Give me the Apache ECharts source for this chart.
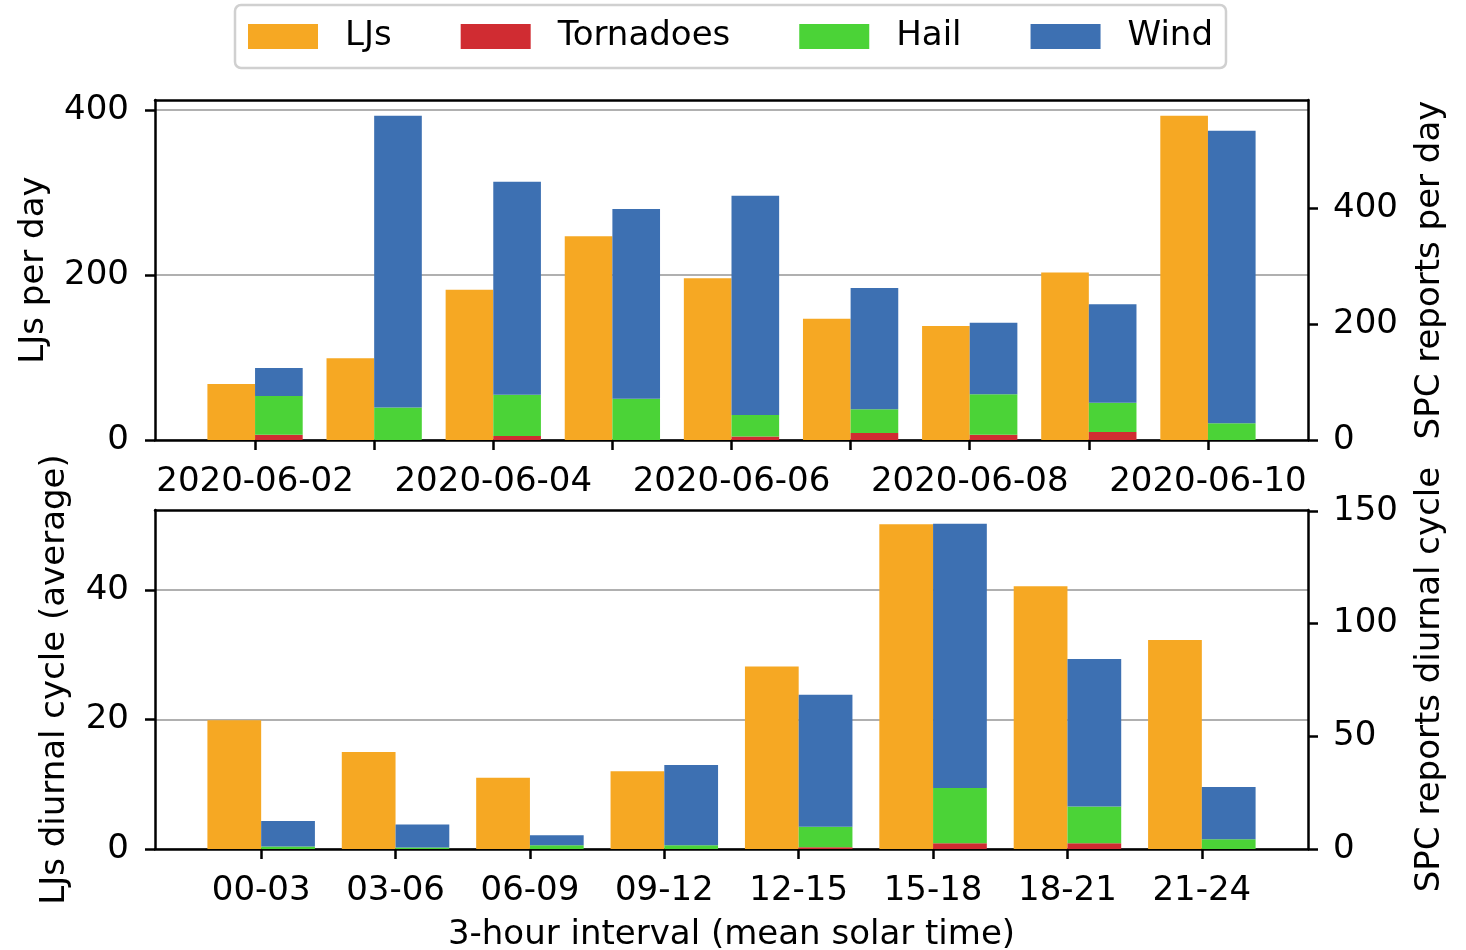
<!DOCTYPE html>
<html>
<head>
<meta charset="utf-8">
<script src="https://cdn.jsdelivr.net/npm/echarts@6/dist/echarts.min.js"></script>
<style>
  html, body { margin: 0; padding: 0; background: #ffffff; }
  #chart { width: 1466px; height: 950px; }
</style>
</head>
<body>
<div id="chart"></div>
<script>
// Daily counts (top panel)
const days = ['2020-06-02', '2020-06-03', '2020-06-04', '2020-06-05', '2020-06-06',
              '2020-06-07', '2020-06-08', '2020-06-09', '2020-06-10'];
const dayLabelIdx = [0, 2, 4, 6, 8];
const ljsDaily     = [68, 99, 182, 247, 196, 147, 138, 203, 393];
const tornadoDaily = [9, 0, 7, 0, 6, 12, 9, 14, 0];
const hailDaily    = [67, 56, 71, 71, 37, 41, 70, 50, 29];
const windDaily    = [48, 503, 367, 327, 378, 209, 123, 170, 504];

// Diurnal cycle (bottom panel)
const hours = ['00-03', '03-06', '06-09', '09-12', '12-15', '15-18', '18-21', '21-24'];
const ljsDiurnal     = [19.9, 15.0, 11.0, 12.0, 28.2, 50.2, 40.6, 32.3];
const tornadoDiurnal = [0, 0, 0, 0, 0.8, 2.6, 2.6, 0];
const hailDiurnal    = [1.1, 0.7, 1.7, 1.7, 9.1, 24.5, 16.3, 4.3];
const windDiurnal    = [11.3, 10.2, 4.4, 35.6, 58.5, 117.2, 65.4, 23.2];

const leftTicksTop = [0, 200, 400];
const rightTicksTop = [0, 200, 400];
const leftTicksBottom = [0, 20, 40];
const rightTicksBottom = [0, 50, 100, 150];

const COLORS = { LJs: '#f6a823', Tornadoes: '#d02c32', Hail: '#4bd337', Wind: '#3d70b2' };
const FONT = 'DejaVu Sans';
const FS = 34;

// Panel frames (pixels) and axis ranges; bars sit in an inner band grid
// so that each category spans exactly one unit of the framing value axis.
const FRAME_LEFT = 155, FRAME_RIGHT = 1308, W = 1466;
const TOP = { top: 100, height: 340, xmin: -0.84, xmax: 8.84, n: days.length,
              yL: [0, 412], yR: [0, 586] };
const BOT = { top: 510, height: 339, xmin: -0.79, xmax: 7.79, n: hours.length,
              yL: [0, 52.4], yR: [0, 150.4] };

function innerGrid(p) {
  const unit = (FRAME_RIGHT - FRAME_LEFT) / (p.xmax - p.xmin);
  const left = FRAME_LEFT + (-0.5 - p.xmin) * unit;
  const width = p.n * unit;
  return { left, width, top: p.top, height: p.height, outerBoundsMode: 'none', containLabel: false };
}

const chart = echarts.init(document.getElementById('chart'), null, { renderer: 'canvas' });

function range(n) { return Array.from({ length: n }, (_, i) => i); }

const axisLine = { show: true, onZero: false, lineStyle: { color: '#000', width: 2.5 } };
const tick = (vals) => ({ show: true, inside: false, length: 10, lineStyle: { color: '#000', width: 2.5 }, customValues: vals });
const labelStyle = { fontFamily: FONT, fontSize: FS, color: '#000' };
const nameStyle = { fontFamily: FONT, fontSize: FS, color: '#000' };
const gridLine = { show: true, lineStyle: { color: '#b0b0b0', width: 2 } };

function frameAxis(gridIndex, p) {
  return {
    type: 'value', gridIndex, position: 'top', min: p.xmin, max: p.xmax,
    axisLine, axisTick: { show: false }, axisLabel: { show: false }, splitLine: { show: false }
  };
}
function bandAxis(gridIndex, cats) {
  return { type: 'category', gridIndex, data: cats, show: false, boundaryGap: true };
}
function hiddenY(gridIndex, ext) {
  return { type: 'value', gridIndex, min: ext[0], max: ext[1], show: false, splitLine: { show: false } };
}

function barSeries(name, xi, yi, stack, data) {
  return {
    type: 'bar', name, xAxisIndex: xi, yAxisIndex: yi, stack,
    data, barWidth: '40%', barGap: '0%',
    itemStyle: { color: COLORS[name] },
    emphasis: { disabled: true }, animation: false
  };
}

const frameGrid = (p) => ({
  left: FRAME_LEFT, right: W - FRAME_RIGHT, top: p.top, height: p.height,
  outerBoundsMode: 'none', containLabel: false
});

const option = {
  backgroundColor: '#ffffff',
  animation: false,
  textStyle: { fontFamily: FONT },
  legend: {
    data: ['LJs', 'Tornadoes', 'Hail', 'Wind'],
    left: 235, top: 5,
    padding: [10, 13, 10, 13],
    itemWidth: 70, itemHeight: 25, itemGap: 69,
    icon: 'rect',
    borderColor: '#d0d0d0', borderWidth: 2.5, borderRadius: 6,
    backgroundColor: '#ffffff',
    textStyle: { fontFamily: FONT, fontSize: FS, color: '#000', padding: [3, 0, 0, 22], lineHeight: 40 },
    selectedMode: false
  },
  grid: [frameGrid(TOP), innerGrid(TOP), frameGrid(BOT), innerGrid(BOT)],
  xAxis: [
    {
      type: 'value', gridIndex: 0, position: 'bottom', min: TOP.xmin, max: TOP.xmax,
      axisLine, axisTick: tick(range(days.length)),
      axisLabel: { ...labelStyle, margin: 25, customValues: dayLabelIdx, formatter: (v) => days[Math.round(v)] },
      splitLine: { show: false }
    },
    frameAxis(0, TOP),
    bandAxis(1, days),
    {
      type: 'value', gridIndex: 2, position: 'bottom', min: BOT.xmin, max: BOT.xmax,
      axisLine, axisTick: tick(range(hours.length)),
      axisLabel: { ...labelStyle, margin: 25, customValues: range(hours.length), formatter: (v) => hours[Math.round(v)] },
      splitLine: { show: false },
      name: '3-hour interval (mean solar time)', nameLocation: 'middle', nameGap: 69,
      nameTextStyle: nameStyle
    },
    frameAxis(2, BOT),
    bandAxis(3, hours)
  ],
  yAxis: [
    {
      type: 'value', gridIndex: 0, position: 'left', min: TOP.yL[0], max: TOP.yL[1], interval: 200,
      axisLine, axisTick: tick(leftTicksTop),
      axisLabel: { ...labelStyle, margin: 26, customValues: leftTicksTop },
      splitLine: gridLine,
      name: 'LJs per day', nameLocation: 'middle', nameGap: 104, nameRotate: 90,
      nameTextStyle: nameStyle
    },
    {
      type: 'value', gridIndex: 0, position: 'right', min: TOP.yR[0], max: TOP.yR[1], interval: 200,
      axisLine, axisTick: tick(rightTicksTop),
      axisLabel: { ...labelStyle, margin: 25, customValues: rightTicksTop },
      splitLine: { show: false },
      name: 'SPC reports per day', nameLocation: 'middle', nameGap: 105, nameRotate: 90,
      nameTextStyle: nameStyle
    },
    hiddenY(1, TOP.yL),
    hiddenY(1, TOP.yR),
    {
      type: 'value', gridIndex: 2, position: 'left', min: BOT.yL[0], max: BOT.yL[1], interval: 20,
      axisLine, axisTick: tick(leftTicksBottom),
      axisLabel: { ...labelStyle, margin: 26, customValues: leftTicksBottom },
      splitLine: gridLine,
      name: 'LJs diurnal cycle (average)', nameLocation: 'middle', nameGap: 83, nameRotate: 90,
      nameTextStyle: nameStyle
    },
    {
      type: 'value', gridIndex: 2, position: 'right', min: BOT.yR[0], max: BOT.yR[1], interval: 50,
      axisLine, axisTick: tick(rightTicksBottom),
      axisLabel: { ...labelStyle, margin: 25, customValues: rightTicksBottom },
      splitLine: { show: false },
      name: 'SPC reports diurnal cycle', nameLocation: 'middle', nameGap: 105, nameRotate: 90,
      nameTextStyle: nameStyle
    },
    hiddenY(3, BOT.yL),
    hiddenY(3, BOT.yR)
  ],
  series: [
    barSeries('LJs', 2, 2, 'lj', ljsDaily),
    barSeries('Tornadoes', 2, 3, 'spc', tornadoDaily),
    barSeries('Hail', 2, 3, 'spc', hailDaily),
    barSeries('Wind', 2, 3, 'spc', windDaily),
    barSeries('LJs', 5, 6, 'lj2', ljsDiurnal),
    barSeries('Tornadoes', 5, 7, 'spc2', tornadoDiurnal),
    barSeries('Hail', 5, 7, 'spc2', hailDiurnal),
    barSeries('Wind', 5, 7, 'spc2', windDiurnal)
  ]
};

chart.setOption(option);
</script>
</body>
</html>
